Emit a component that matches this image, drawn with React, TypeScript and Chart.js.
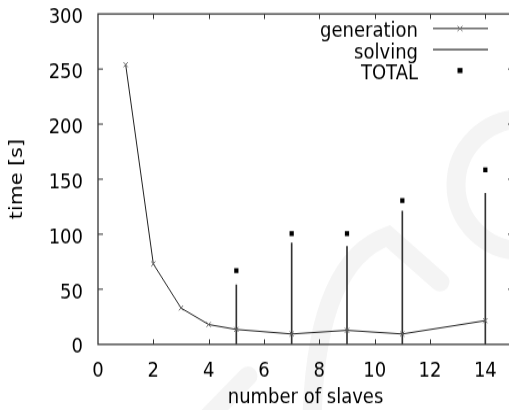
import React, { useEffect, useRef } from "react";
import { Chart, registerables } from "chart.js";

Chart.register(...registerables);

// ---- data ----
const slaves = [1, 2, 3, 4, 5, 7, 9, 11, 14];
const generation = [254, 73, 33, 18, 13.5, 9.4, 12.7, 9.4, 21.5];
const solvingSlaves = [5, 7, 9, 11, 14];
const solving = [54, 92, 89, 121, 137];
const total = [67, 100.5, 100.5, 130.5, 158.5];
const xTicks = [0, 2, 4, 6, 8, 10, 12, 14];
const yTicks = [0, 50, 100, 150, 200, 250, 300];
const seriesLabels = ["generation", "solving", "TOTAL"];
const xTitle = "number of slaves";
const yTitle = "time [s]";

const FONT = "'DejaVu Sans', sans-serif";
const FONT_SIZE = 18;
// the reference is a vertically stretched picture
const CANVAS_W = 520;
const CANVAS_H = 357;
const K = 410 / CANVAS_H;

const watermarkPlugin = {
  id: "watermark",
  beforeDraw(chart: any) {
    const ctx = chart.ctx;
    ctx.save();
    ctx.scale(1, 1 / K);
    ctx.strokeStyle = "#f4f4f4";
    ctx.lineWidth = 19;
    ctx.lineCap = "round";
    ctx.beginPath();
    ctx.moveTo(312, 420);
    ctx.quadraticCurveTo(316, 262, 388, 236);
    ctx.lineTo(440, 282);
    ctx.stroke();
    ctx.beginPath();
    ctx.arc(522, 185, 66, Math.PI * 0.5, Math.PI * 1.5);
    ctx.stroke();
    ctx.beginPath();
    ctx.moveTo(205, 420);
    ctx.lineTo(248, 376);
    ctx.stroke();
    ctx.restore();
  },
};

const framePlugin = {
  id: "frame",
  beforeDatasetsDraw(chart: any) {
    const { ctx, chartArea } = chart;
    const { left, right, top, bottom } = chartArea;
    const xs = chart.scales.x;
    const ys = chart.scales.y;
    const tlx = 5;
    const tly = 5 / K;
    ctx.save();
    ctx.strokeStyle = "#333";
    ctx.lineWidth = 1.3;
    ctx.beginPath();
    ctx.moveTo(right + 2, top);
    ctx.lineTo(left, top);
    ctx.lineTo(left, bottom);
    ctx.lineTo(right + 2, bottom);
    ctx.stroke();
    ctx.lineWidth = 1;
    ctx.beginPath();
    xTicks.forEach((v) => {
      const px = Math.round(xs.getPixelForValue(v)) + 0.5;
      if (v > xs.min && v < xs.max) {
        ctx.moveTo(px, bottom);
        ctx.lineTo(px, bottom - tly);
        ctx.moveTo(px, top);
        ctx.lineTo(px, top + tly);
      }
    });
    yTicks.forEach((v) => {
      const py = ys.getPixelForValue(v);
      if (v > ys.min && v < ys.max) {
        ctx.moveTo(left, py);
        ctx.lineTo(left + tlx, py);
        ctx.moveTo(right, py);
        ctx.lineTo(right - tlx, py);
      }
    });
    ctx.stroke();
    ctx.restore();
  },
};

const legendPlugin = {
  id: "customLegend",
  afterDraw(chart: any) {
    const ctx = chart.ctx;
    const textRight = 418;
    const x0 = 433;
    const x1 = 488;
    const xm = 460;
    ctx.save();
    ctx.font = `${FONT_SIZE}px ${FONT}`;
    ctx.fillStyle = "#000";
    ctx.textAlign = "right";
    ctx.textBaseline = "middle";
    seriesLabels.forEach((lab, i) => {
      const sy = (28.5 + 21 * i) / K;
      ctx.fillText(lab, textRight, sy + 3);
      if (i === 0) {
        ctx.strokeStyle = "#222";
        ctx.lineWidth = 1;
        ctx.beginPath();
        ctx.moveTo(x0, sy);
        ctx.lineTo(x1, sy);
        ctx.stroke();
        ctx.strokeStyle = "#777";
        ctx.beginPath();
        ctx.moveTo(xm - 2.5, sy - 2.2);
        ctx.lineTo(xm + 2.5, sy + 2.2);
        ctx.moveTo(xm - 2.5, sy + 2.2);
        ctx.lineTo(xm + 2.5, sy - 2.2);
        ctx.stroke();
      } else if (i === 1) {
        ctx.strokeStyle = "#333";
        ctx.lineWidth = 1.1;
        ctx.beginPath();
        ctx.moveTo(x0, sy);
        ctx.lineTo(x1, sy);
        ctx.stroke();
      } else {
        ctx.fillRect(xm - 2.5, sy - 2.2, 5, 4.4);
      }
    });
    ctx.restore();
  },
};

export default function App() {
  const ref = useRef<HTMLCanvasElement | null>(null);

  useEffect(() => {
    if (!ref.current) return;
    const chart = new Chart(ref.current, {
      type: "scatter",
      data: {
        datasets: [
          {
            type: "line",
            label: seriesLabels[0],
            data: slaves.map((x, i) => ({ x, y: generation[i] })),
            borderColor: "#222",
            borderWidth: 1,
            pointStyle: "crossRot",
            pointRadius: 3,
            pointBorderColor: "#666",
            pointBorderWidth: 1,
            tension: 0,
            showLine: true,
            order: 1,
          } as any,
          {
            type: "bar",
            label: seriesLabels[1],
            data: solvingSlaves.map((x, i) => ({ x, y: solving[i] })),
            backgroundColor: "#333",
            barThickness: 1,
            order: 2,
          } as any,
          {
            type: "scatter",
            label: seriesLabels[2],
            data: solvingSlaves.map((x, i) => ({ x, y: total[i] })),
            pointStyle: "rect",
            pointRadius: 3,
            backgroundColor: "#000",
            borderWidth: 0,
            order: 0,
          } as any,
        ],
      },
      options: {
        animation: false,
        responsive: false,
        devicePixelRatio: 1,
        layout: { padding: { top: 14 / K, right: 7, bottom: 0, left: 0 } },
        plugins: {
          legend: { display: false },
          tooltip: { enabled: false },
        },
        scales: {
          x: {
            type: "linear",
            min: 0,
            max: 15,
            offset: false,
            afterBuildTicks: (s: any) => {
              s.ticks = xTicks.map((v) => ({ value: v }));
            },
            afterFit: (s: any) => {
              s.height = CANVAS_H - 344.3 / K;
              s.paddingLeft = 0;
              s.paddingRight = 0;
              s.paddingTop = 0;
              s.paddingBottom = 0;
            },
            grid: { display: false, drawTicks: false },
            border: { display: false },
            ticks: {
              color: "#000",
              font: { family: FONT, size: FONT_SIZE },
              padding: 13,
              maxRotation: 0,
              autoSkip: false,
            },
            title: {
              display: true,
              text: xTitle,
              color: "#000",
              font: { family: FONT, size: FONT_SIZE },
              padding: { top: 0, bottom: 0 },
            },
          },
          y: {
            type: "linear",
            min: 0,
            max: 300,
            afterBuildTicks: (s: any) => {
              s.ticks = yTicks.map((v) => ({ value: v }));
            },
            afterFit: (s: any) => {
              s.width = 98;
              s.paddingLeft = 0;
              s.paddingRight = 0;
              s.paddingTop = 0;
              s.paddingBottom = 0;
            },
            grid: { display: false, drawTicks: false },
            border: { display: false },
            ticks: {
              color: "#000",
              font: { family: FONT, size: FONT_SIZE },
              padding: 15,
              labelOffset: 3,
              autoSkip: false,
            },
            title: {
              display: true,
              text: yTitle,
              color: "#000",
              font: { family: FONT, size: FONT_SIZE },
              padding: { top: 7, bottom: 0 },
            },
          },
        },
      } as any,
      plugins: [watermarkPlugin, framePlugin, legendPlugin],
    });
    return () => chart.destroy();
  }, []);

  return (
    <div
      style={{
        position: "fixed",
        left: 0,
        top: 0,
        width: 509,
        height: 410,
        overflow: "hidden",
        background: "#fff",
      }}
    >
      <div
        style={{
          width: CANVAS_W,
          height: CANVAS_H,
          transform: `scaleY(${K})`,
          transformOrigin: "0 0",
        }}
      >
        <canvas
          ref={ref}
          width={CANVAS_W}
          height={CANVAS_H}
          style={{ display: "block" }}
        />
      </div>
    </div>
  );
}
